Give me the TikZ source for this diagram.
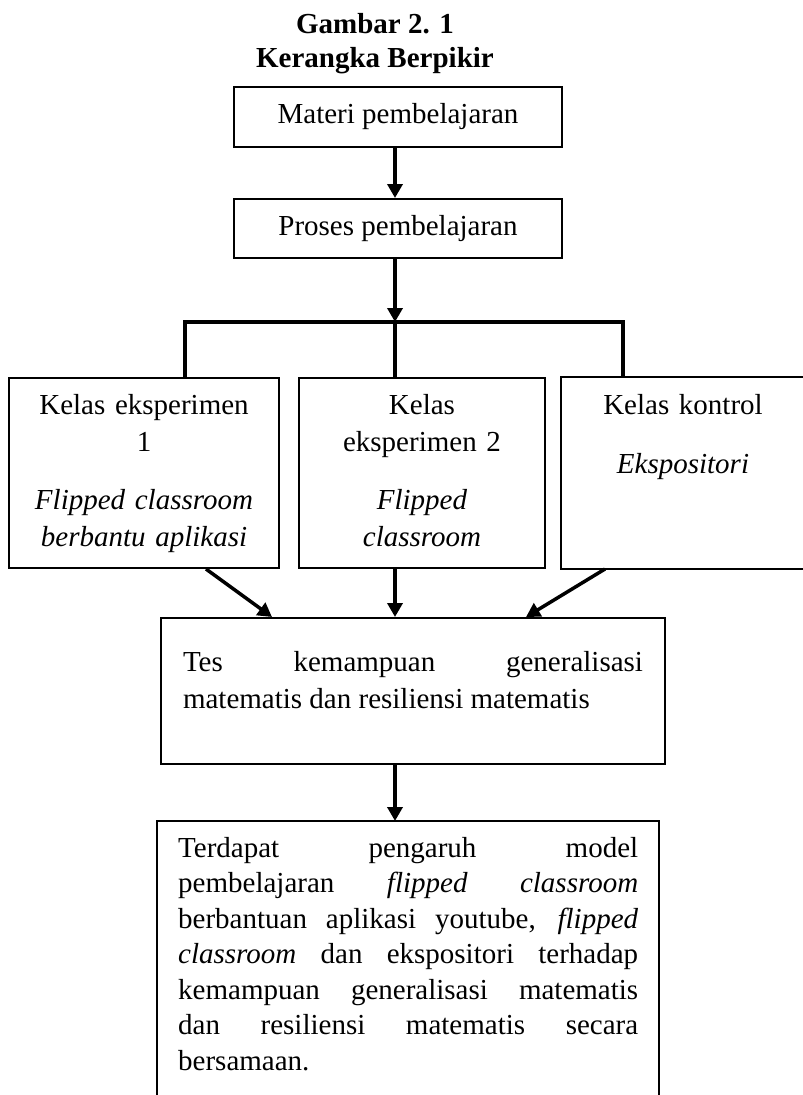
\documentclass[tikz,border=0pt]{standalone}
\usepackage{fontspec}
\setmainfont{Liberation Serif}
\usetikzlibrary{arrows.meta}
\hyphenpenalty=10000
\exhyphenpenalty=10000

\begin{document}
\begin{tikzpicture}[x=1pt, y=-1pt,
    teks/.style={font=\fontsize{29}{37}\selectfont},
    kotak/.style={teks, draw, line width=2pt},
    kelas/.style={kotak, anchor=north west, align=center, inner xsep=4pt, inner ysep=0pt, text height=36pt, text depth=154pt},
    panah/.style={-{Triangle[length=14pt, width=15pt]}, line width=3.5pt},
    cabang/.style={line width=4pt}]
    \useasboundingbox (0,0) rectangle (803,1095);

    % Judul
    \node (judul) at (375,67) [anchor=base, align=center, font=\fontsize{29}{34}\selectfont\bfseries] {Gambar 2. 1\\Kerangka Berpikir};

    % Kotak atas
    \node (materi) at (398,117) [kotak, minimum width=328pt, minimum height=60pt] {Materi pembelajaran};
    \node (proses) at (398,228.5) [kotak, minimum width=328pt, minimum height=59pt] {Proses pembelajaran};
    \coordinate (cab) at (395,322);
    \draw[panah] (materi.south -| cab) -- (proses.north -| cab);

    % Tiga kelas
    \node (eks1) at (8,377) [kelas, text width=262pt] {Kelas eksperimen\\1\\[21pt]\textit{Flipped classroom}\\\textit{berbantu aplikasi}};
    \node (eks2) at (298,377) [kelas, text width=238pt] {Kelas\\eksperimen 2\\[21pt]\textit{Flipped}\\\textit{classroom}};
    \node (kontrol) at (561,377) [kelas, draw=none, text width=234pt] {Kelas kontrol\\[22pt]\textit{Ekspositori}};
    \draw[line width=2pt] (kontrol.north east) -- (kontrol.north west) -- (kontrol.south west) -- (kontrol.south east);

    % Percabangan
    \draw[panah] (proses.south -| cab) -- (cab);
    \draw[cabang] ([xshift=41pt]eks1.north) |- (cab) -| ([xshift=-60pt]kontrol.north);
    \draw[cabang] (cab) -- (cab |- eks2.north);

    % Tes
    \node (tes) at (413,617) [kotak, anchor=north, text width=460pt, inner xsep=22pt, inner ysep=0pt, text height=53pt, text depth=93pt, align=justify] {Tes kemampuan generalisasi\linebreak matematis dan resiliensi matematis};
    \draw[panah] ([xshift=62pt]eks1.south) -- ([xshift=-141pt]tes.north);
    \draw[panah] (cab |- eks2.south) -- (cab |- tes.north);
    \draw[panah] ([xshift=-78pt]kontrol.south) -- ([xshift=113pt]tes.north);

    % Kesimpulan
    \node (hasil) at (157,821) [anchor=north west, text width=460pt, inner xsep=21pt, inner ysep=0pt, text height=36pt, text depth=238pt, align=justify, font=\fontsize{29}{35.5}\selectfont] {Terdapat pengaruh model\linebreak pembelajaran \textit{flipped classroom}\linebreak berbantuan aplikasi youtube, \textit{flipped}\linebreak \textit{classroom} dan ekspositori terhadap\linebreak kemampuan generalisasi matematis\linebreak dan resiliensi matematis secara\linebreak bersamaan.};
    \draw[line width=2pt] (hasil.south west) -- (hasil.north west) -- (hasil.north east) -- (hasil.south east);
    \draw[panah] (cab |- tes.south) -- (cab |- hasil.north);
\end{tikzpicture}
\end{document}
